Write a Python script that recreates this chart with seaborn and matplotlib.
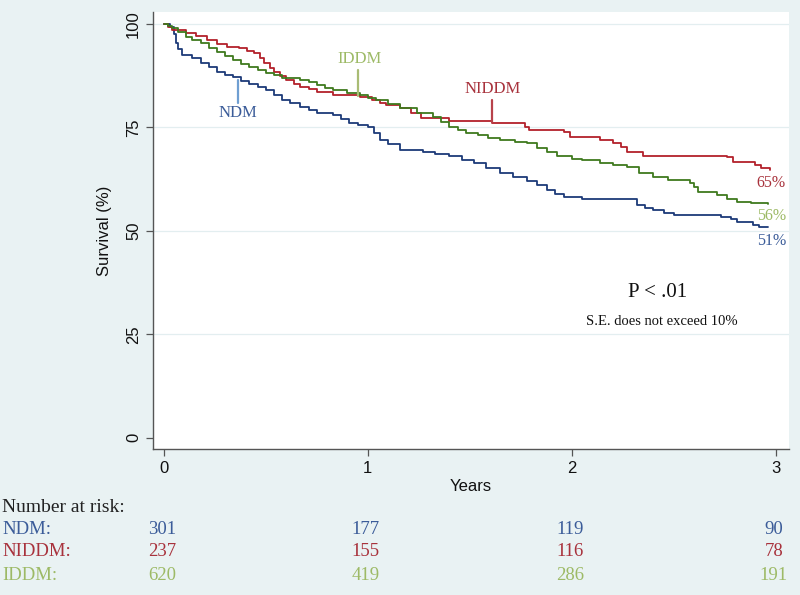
import numpy as np
import pandas as pd
import matplotlib
matplotlib.use('Agg')
import matplotlib.pyplot as plt
import matplotlib.transforms as mtransforms
import seaborn as sns

# Kaplan-Meier curves (years, survival %)
ndm_t = [0, 0.03, 0.05, 0.06, 0.07, 0.09, 0.14, 0.18, 0.22, 0.26, 0.30, 0.34, 0.38, 0.42,
         0.46, 0.50, 0.54, 0.58, 0.62, 0.67, 0.71, 0.75, 0.83, 0.87, 0.91, 0.95, 1.00,
         1.03, 1.06, 1.10, 1.16, 1.27, 1.33, 1.40, 1.46, 1.52, 1.58, 1.65, 1.71, 1.78,
         1.83, 1.88, 1.92, 1.96, 2.05, 2.32, 2.36, 2.40, 2.45, 2.50, 2.73, 2.78, 2.81,
         2.89, 2.92, 2.96]
ndm_s = [100, 99.3, 97.5, 95.5, 94, 92.5, 91.8, 90.6, 89.6, 88.4, 87.8, 87.2, 86.3, 85.5,
         84.8, 84, 82.8, 81.6, 80.8, 80, 79.2, 78.5, 78, 77, 76, 75.5, 75.1,
         73.6, 72, 71, 69.6, 69, 68.5, 68, 67.2, 66.4, 65.2, 64, 63, 62,
         61, 60, 59, 58.2, 57.7, 56.3, 55.6, 55, 54.4, 53.9, 53.4, 52.8, 52.2,
         51.4, 51.0, 51.0]

niddm_t = [0, 0.02, 0.04, 0.11, 0.16, 0.21, 0.26, 0.31, 0.37, 0.41, 0.44, 0.47, 0.49,
           0.52, 0.54, 0.57, 0.60, 0.64, 0.67, 0.71, 0.75, 0.83, 0.96, 1.02, 1.06, 1.09,
           1.16, 1.21, 1.26, 1.40, 1.61, 1.75, 1.77, 1.79, 1.96, 1.99, 2.14, 2.20, 2.24,
           2.27, 2.35, 2.76, 2.79, 2.90, 2.93, 2.97]
niddm_s = [100, 99.3, 98.5, 97.8, 97, 96.1, 95.2, 94.4, 94.2, 93.6, 93, 91.8, 90.6,
           89.4, 88.4, 87.4, 86.5, 85.6, 84.8, 84.2, 83.6, 82.9, 82.4, 81.6, 81, 80.4,
           79.7, 78.6, 77.4, 76.5, 76.2, 76, 75.2, 74.4, 73.9, 72.7, 72, 71.2, 70.2,
           69, 68.1, 67.9, 66.7, 66, 65.2, 64.7]

iddm_t = [0, 0.02, 0.04, 0.07, 0.11, 0.14, 0.18, 0.22, 0.26, 0.30, 0.34, 0.38, 0.42,
          0.46, 0.50, 0.54, 0.58, 0.67, 0.71, 0.75, 0.79, 0.83, 0.90, 0.96, 1.00, 1.04,
          1.10, 1.16, 1.24, 1.32, 1.36, 1.40, 1.44, 1.48, 1.54, 1.59, 1.65, 1.72, 1.78,
          1.83, 1.88, 1.93, 2.00, 2.05, 2.14, 2.20, 2.27, 2.33, 2.40, 2.47, 2.58, 2.60,
          2.62, 2.71, 2.76, 2.81, 2.88, 2.96]
iddm_s = [100, 99.5, 99, 98, 96.9, 96.2, 95.4, 94.3, 93.2, 92.2, 91.3, 90.4, 89.6,
          88.9, 88.2, 87.6, 87, 86.5, 85.9, 85.3, 84.6, 84, 83.4, 82.9, 82.2, 81.6,
          80.6, 79.7, 78.6, 77.5, 76.3, 75.1, 74.4, 73.7, 73.1, 72.5, 72, 71.6, 71.2,
          70.1, 69, 68, 67.5, 67.1, 66.4, 66, 65.5, 64, 63.1, 62.3, 61.6, 60.5,
          59.4, 58.7, 57.8, 57, 56.8, 56.5]

groups = ['NDM', 'NIDDM', 'IDDM']
final_labels = ['51%', '65%', '56%']
risk_times = [0, 1, 2, 3]
risk_ndm = [301, 177, 119, 90]
risk_niddm = [237, 155, 116, 78]
risk_iddm = [620, 419, 286, 191]

line_cols = {'NDM': '#1d3a78', 'NIDDM': '#b3212b', 'IDDM': '#3f7a1e'}
text_cols = {'NDM': '#3b5c99', 'NIDDM': '#a8323c', 'IDDM': '#9dba66'}
bg = '#e9f2f3'

df = pd.concat([
    pd.DataFrame({'t': ndm_t, 's': ndm_s, 'group': 'NDM'}),
    pd.DataFrame({'t': niddm_t, 's': niddm_s, 'group': 'NIDDM'}),
    pd.DataFrame({'t': iddm_t, 's': iddm_s, 'group': 'IDDM'}),
])

sns.set_theme(style='white')
plt.rcParams['font.family'] = ['Liberation Sans', 'DejaVu Sans']
serif = ['Liberation Serif', 'DejaVu Serif']

fig = plt.figure(figsize=(8, 5.95), dpi=100, facecolor=bg)
ax = fig.add_axes([0.191, 0.2454, 0.795, 0.7344])
ax.set_facecolor('white')

sns.lineplot(data=df, x='t', y='s', hue='group', palette=line_cols, estimator=None,
             drawstyle='steps-post', linewidth=1.3, legend=False, ax=ax)

ax.set_xlim(-0.054, 3.064)
ax.set_ylim(-2.7, 102.9)
ax.set_xticks([0, 1, 2, 3])
ax.set_yticks([0, 25, 50, 75, 100])
for y in [25, 50, 75, 100]:
    ax.axhline(y, color='#e3eef0', linewidth=0.9, zorder=0)
for sp in ['top', 'right']:
    ax.spines[sp].set_visible(False)
for sp in ['left', 'bottom']:
    ax.spines[sp].set_color('#555555')
    ax.spines[sp].set_linewidth(1.0)
ax.tick_params(axis='both', direction='out', length=5, width=0.9, color='#555555',
               labelsize=12, labelcolor='#111111', bottom=True, left=True)
plt.setp(ax.get_yticklabels(), rotation=90, va='center')
ax.set_xlabel('Years', fontsize=12, color='#111111', labelpad=2)
ax.set_ylabel('Survival (%)', fontsize=12, color='#111111', labelpad=10)

# curve labels with pointer lines
ax.plot([0.363, 0.363], [86.5, 81], color='#6f9fd2', linewidth=1.6)
ax.text(0.363, 78.5, 'NDM', color=text_cols['NDM'], fontsize=12, family=serif, ha='center', va='center')
ax.plot([0.951, 0.951], [82.6, 89], color='#a9bc74', linewidth=1.6)
ax.text(0.958, 91.5, 'IDDM', color=text_cols['IDDM'], fontsize=12, family=serif, ha='center', va='center')
ax.plot([1.61, 1.61], [76.3, 81.6], color='#b8424b', linewidth=1.6)
ax.text(1.61, 84.3, 'NIDDM', color=text_cols['NIDDM'], fontsize=12, family=serif, ha='center', va='center')

end_y = {'NDM': 47.6, 'NIDDM': 61.6, 'IDDM': 53.6}
for g, lab in zip(groups, final_labels):
    ax.text(3.05, end_y[g], lab, color=text_cols[g], fontsize=11.5, family=serif,
            ha='right', va='center')

ax.text(2.42, 35.1, 'P < .01', fontsize=15, family=serif, color='#111111', ha='center', va='center')
ax.text(2.44, 28.1, 'S.E. does not exceed 10%', fontsize=10.5, family=serif, color='#111111',
        ha='center', va='center')

# number at risk table
trans = mtransforms.blended_transform_factory(ax.transData, fig.transFigure)
fig.text(0.003, 1 - 508 / 595, 'Number at risk:', fontsize=14, family=serif, color='#222222', va='center')
rows = [('NDM', risk_ndm), ('NIDDM', risk_niddm), ('IDDM', risk_iddm)]
row_y = [1 - 530 / 595, 1 - 552 / 595, 1 - 575 / 595]
for (g, vals), yy in zip(rows, row_y):
    fig.text(0.003, yy, g + ':', fontsize=13.5, family=serif, color=text_cols[g], va='center')
    for t, v in zip(risk_times, vals):
        ax.text(t - 0.01, yy, str(v), transform=trans, fontsize=13.5, family=serif,
                color=text_cols[g], ha='center', va='center', clip_on=False)

fig.savefig('out.png', dpi=100, facecolor=bg)
